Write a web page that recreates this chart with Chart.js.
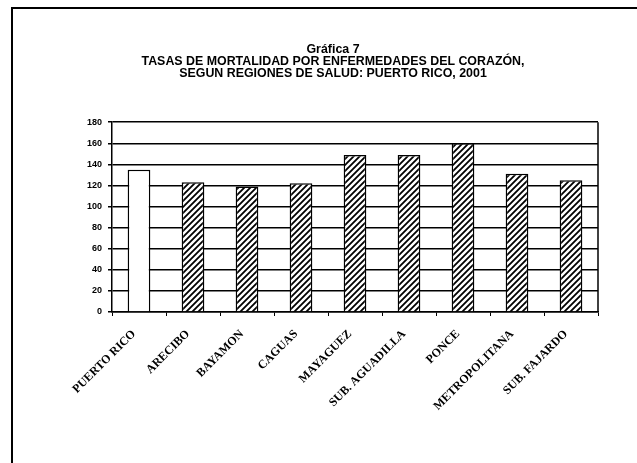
<!DOCTYPE html>
<html><head><meta charset="utf-8">
<script src="https://cdn.jsdelivr.net/npm/chart.js@4/dist/chart.umd.min.js"></script>
<style>
html,body{margin:0;padding:0;background:#fff;}
#wrap{position:absolute;left:0;top:0;width:637px;height:463px;}
</style></head>
<body><div id="wrap"><canvas id="c" width="637" height="463"></canvas></div>
<script>
const titleLines = ["Gráfica 7", "TASAS DE MORTALIDAD POR ENFERMEDADES DEL CORAZÓN,", "SEGUN REGIONES DE SALUD: PUERTO RICO, 2001"];
const regions = ["PUERTO RICO", "ARECIBO", "BAYAMON", "CAGUAS", "MAYAGUEZ", "SUB. AGUADILLA", "PONCE", "METROPOLITANA", "SUB. FAJARDO"];
const rates = [135, 123, 119, 122, 149, 149, 160, 131, 125];
const yTicks = [0, 20, 40, 60, 80, 100, 120, 140, 160, 180];

function hatch() {
  const s = 6, c = document.createElement('canvas');
  c.width = s; c.height = s;
  const x = c.getContext('2d');
  x.fillStyle = '#fff'; x.fillRect(0, 0, s, s);
  x.strokeStyle = '#000'; x.lineWidth = 1.8;
  x.beginPath();
  x.moveTo(-1, s + 1); x.lineTo(s + 1, -1);
  x.moveTo(-1, 1); x.lineTo(1, -1);
  x.moveTo(s - 1, s + 1); x.lineTo(s + 1, s - 1);
  x.stroke();
  return x.createPattern(c, 'repeat');
}
const ctx = document.getElementById('c').getContext('2d');
const pat = hatch();
const fills = regions.map((r, i) => i === 0 ? '#ffffff' : pat);

const frame = {
  id: 'frame',
  afterDraw(chart) {
    const g = chart.ctx, a = chart.chartArea;
    g.save();
    g.strokeStyle = '#000'; g.lineWidth = 2;
    g.beginPath();
    g.moveTo(12, 463); g.lineTo(12, 8); g.lineTo(637, 8);
    g.stroke();
    g.lineWidth = 1.5;
    g.beginPath();
    g.moveTo(a.right, a.top); g.lineTo(a.right, a.bottom);
    g.stroke();
    g.restore();
  }
};

new Chart(ctx, {
  type: 'bar',
  data: {
    labels: regions,
    datasets: [{
      data: rates,
      backgroundColor: fills,
      borderColor: '#000',
      borderWidth: 1.5,
      barPercentage: 0.42,
      categoryPercentage: 1.0
    }]
  },
  options: {
    responsive: false,
    animation: false,
    devicePixelRatio: 1,
    layout: { padding: { left: 68, right: 39, top: 0, bottom: 0 } },
    plugins: {
      legend: { display: false },
      tooltip: { enabled: false },
      title: {
        display: true,
        text: titleLines,
        color: '#000',
        font: { family: "'Liberation Sans',Arial,sans-serif", size: 12.4, weight: 'bold', lineHeight: 1.0 },
        padding: { top: 43, bottom: 42 }
      }
    },
    scales: {
      x: {
        grid: { display: true, drawOnChartArea: false, drawTicks: true, tickLength: 4, color: '#000', offset: true },
        border: { display: true, color: '#000', width: 1.5 },
        ticks: {
          color: '#000', autoSkip: false, maxRotation: 45, minRotation: 45, padding: 11, labelOffset: -5,
          font: { family: "'Liberation Serif','Times New Roman',serif", size: 12, weight: 'bold' }
        },
        afterFit(scale) { scale.height = 151; }
      },
      y: {
        min: 0, max: 180,
        afterBuildTicks(scale) { scale.ticks = yTicks.map(v => ({ value: v })); },
        grid: { color: '#000', lineWidth: 1.5, tickLength: 4 },
        border: { display: true, color: '#000', width: 1.5 },
        ticks: {
          color: '#000', padding: 6,
          font: { family: "'Liberation Sans',sans-serif", size: 9, weight: 'bold' }
        },
        afterFit(scale) { scale.width = 44; }
      }
    }
  },
  plugins: [frame]
});
</script>
</body></html>
